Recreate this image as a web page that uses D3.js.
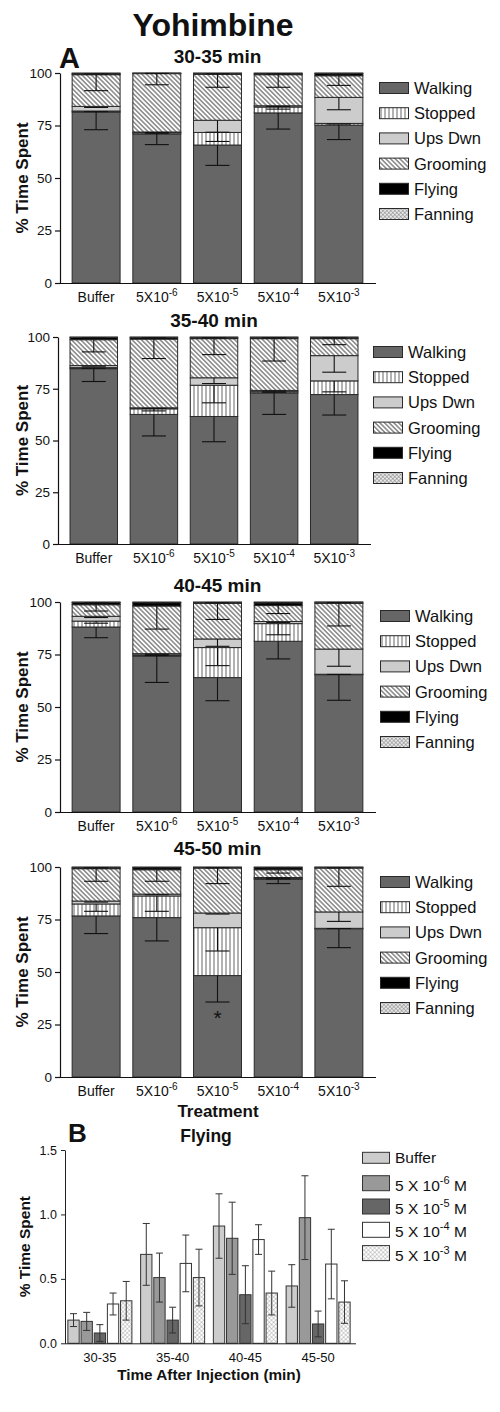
<!DOCTYPE html>
<html><head><meta charset="utf-8">
<script src="https://cdn.jsdelivr.net/npm/d3@7"></script>
<style>
body{margin:0;background:#fff}
svg{display:block}
text{font-family:"Liberation Sans",Arial,Helvetica,sans-serif;fill:#111}
</style>
</head><body>
<svg id="chart" width="500" height="1412"></svg>
<script>
// ---------------- DATA ----------------
const treatmentIds = ["buf","e6","e5","e4","e3"];
const treatmentBase = ["Buffer","5X10","5X10","5X10","5X10"];
const treatmentExp = ["","-6","-5","-4","-3"];
const periods = ["30-35 min","35-40 min","40-45 min","45-50 min"];
const behaviors = ["Walking","Stopped","Ups Dwn","Grooming","Flying","Fanning"];

// % time spent, rows = periods, columns = treatments
const walkingMean  = [[81.4,71.0,65.7,81.0,75.2],[84.7,62.6,61.6,73.0,72.2],[88.1,74.3,64.0,81.3,65.4],[76.7,75.9,48.3,94.1,70.6]];
const stoppedMean  = [[0.5,0.6,6.0,2.8,0.8],[0.5,2.7,15.1,0.6,6.6],[2.8,0.5,14.3,8.4,0.2],[5.7,10.3,22.8,0.4,0.2]];
const upsDwnMean   = [[2.2,0.3,5.8,0.6,12.4],[1.0,0.5,3.6,0.6,12.2],[2.3,0.6,4.1,1.0,12.0],[1.4,0.9,7.0,0.5,7.8]];
const groomingMean = [[15.1,27.8,21.9,14.8,10.3],[12.5,33.2,18.9,25.0,8.2],[5.5,22.7,17.0,7.6,21.8],[15.4,11.6,21.4,3.7,20.9]];
const flyingMeanA  = [[0.5,0.2,0.4,0.5,1.1],[1.1,0.8,0.6,0.6,0.6],[1.1,1.6,0.4,1.3,0.5],[0.6,1.0,0.3,1.0,0.3]];
const fanningMean  = [[0.3,0.1,0.2,0.3,0.2],[0.2,0.2,0.2,0.2,0.2],[0.2,0.3,0.2,0.4,0.1],[0.2,0.3,0.2,0.3,0.2]];

const walkingSem  = [[8.4,5.1,9.7,7.7,6.9],[6.2,10.4,12.2,10.4,9.9],[5.1,12.6,11.0,8.4,12.2],[8.4,11.1,12.6,2.0,9.0]];
const stoppedSem  = [[0.3,0.3,4.3,1.0,0.3],[0.3,1.0,8.5,0.3,5.3],[1.0,0.3,8.6,5.3,0.1],[3.5,7.3,11.1,0.2,0.1]];
const upsDwnSem   = [[0.5,0.2,5.7,0.3,5.9],[0.3,0.3,2.8,0.3,8.0],[0.6,0.3,3.5,0.5,8.2],[0.5,0.3,0.5,0.2,4.5]];
const groomingSem = [[7.6,5.3,6.2,6.0,4.6],[5.9,9.4,7.7,10.8,2.9],[3.0,11.0,7.7,3.8,10.8],[6.0,5.5,7.4,1.6,8.7]];
const flyingSemA  = [[0.2,0.1,0.2,0.2,0.5],[0.3,0.2,0.2,0.2,0.2],[0.3,0.4,0.2,0.3,0.2],[0.2,0.3,0.2,0.3,0.2]];

// Panel B: flying % time, per treatment across periods
const timeGroups = ["30-35","35-40","40-45","45-50"];
const flyBuffer = [0.18,0.69,0.91,0.445];
const fly5e6    = [0.17,0.51,0.815,0.975];
const fly5e5    = [0.08,0.18,0.377,0.15];
const fly5e4    = [0.305,0.62,0.805,0.615];
const fly5e3    = [0.33,0.51,0.39,0.32];
const flyBufferSem = [0.05,0.24,0.25,0.165];
const fly5e6Sem    = [0.07,0.19,0.28,0.325];
const fly5e5Sem    = [0.065,0.10,0.225,0.10];
const fly5e4Sem    = [0.085,0.22,0.115,0.27];
const fly5e3Sem    = [0.15,0.22,0.17,0.165];
const bLegendBase = ["Buffer","5 X 10","5 X 10","5 X 10","5 X 10"];
const bLegendExp  = ["","-6","-5","-4","-3"];

const yTicksA = [0,25,50,75,100];
const yTicksB = [0,0.5,1.0,1.5];

// ---------------- DRAWING ----------------
const svg = d3.select("#chart");
const defs = svg.append("defs");

function linePattern(id, rot, spacing, stroke, sw){
  const p = defs.append("pattern").attr("id",id).attr("patternUnits","userSpaceOnUse")
    .attr("width",spacing).attr("height",spacing);
  if(rot) p.attr("patternTransform",`rotate(${rot})`);
  p.append("rect").attr("width",spacing).attr("height",spacing).attr("fill","#fff");
  p.append("line").attr("x1",spacing/2).attr("x2",spacing/2).attr("y1",0).attr("y2",spacing)
    .attr("stroke",stroke).attr("stroke-width",sw);
}
linePattern("pStopped",0,4,"#555",0.9);
linePattern("pGroom",-45,3.3,"#333",0.9);
function crossPattern(id, spacing, stroke, sw, bg){
  const p = defs.append("pattern").attr("id",id).attr("patternUnits","userSpaceOnUse")
    .attr("width",spacing).attr("height",spacing).attr("patternTransform","rotate(45)");
  p.append("rect").attr("width",spacing).attr("height",spacing).attr("fill",bg);
  p.append("line").attr("x1",0).attr("x2",spacing).attr("y1",0).attr("y2",0).attr("stroke",stroke).attr("stroke-width",sw);
  p.append("line").attr("x1",0).attr("x2",0).attr("y1",0).attr("y2",spacing).attr("stroke",stroke).attr("stroke-width",sw);
}
crossPattern("pFan",2.8,"#555",0.7,"#e8e8e8");
crossPattern("pCross",3,"#888",0.7,"#fff");

const fills = {"Walking":"#666","Stopped":"url(#pStopped)","Ups Dwn":"#ccc","Grooming":"url(#pGroom)","Flying":"#000","Fanning":"url(#pFan)"};
const meanArrays = [walkingMean,stoppedMean,upsDwnMean,groomingMean,flyingMeanA,fanningMean];
const semArrays  = [walkingSem,stoppedSem,upsDwnSem,groomingSem,flyingSemA,null];

// Title
svg.append("text").attr("x",213).attr("y",36).attr("text-anchor","middle")
  .attr("font-size",32).attr("font-weight","bold").text("Yohimbine");
svg.append("text").attr("x",59).attr("y",68).attr("font-size",29).attr("font-weight","bold").text("A");

const layoutsA = [
  {x0:60,x1:375,yTop:73,yBot:283,titleY:63,legX:379,legY:88},
  {x0:58,x1:370,yTop:337,yBot:544,titleY:327,legX:373,legY:352},
  {x0:60,x1:375,yTop:602,yBot:812,titleY:592,legX:380,legY:616},
  {x0:60,x1:375,yTop:867,yBot:1077,titleY:855,legX:380,legY:882}
];

function addSupLabel(sel, base, exp, supSize, shift, suffix){
  sel.text(null);
  sel.append("tspan").text(base);
  if(exp){
    sel.append("tspan").attr("font-size",supSize).attr("dy",-shift).text(exp);
    if(suffix) sel.append("tspan").attr("dy",shift).text(suffix);
  }
}

layoutsA.forEach((L,i)=>{
  const g = svg.append("g");
  const x = d3.scaleBand().domain(treatmentIds).range([L.x0,L.x1]).paddingInner(0.21).paddingOuter(0.2);
  const y = d3.scaleLinear().domain([0,100]).range([L.yBot,L.yTop]);
  const rows = treatmentIds.map((t,j)=>{
    const o={t,j};
    behaviors.forEach((b,k)=>{o[b]=meanArrays[k][i][j];});
    return o;
  });
  const stacked = d3.stack().keys(behaviors)(rows);

  // bars
  stacked.forEach(layer=>{
    g.append("g").selectAll("rect").data(layer).join("rect")
      .attr("x",d=>x(d.data.t)).attr("width",x.bandwidth())
      .attr("y",d=>y(d[1])).attr("height",d=>Math.max(0,y(d[0])-y(d[1])))
      .attr("fill",fills[layer.key]).attr("stroke","#2a2a2a").attr("stroke-width",1);
  });
  // error bars (downward from each segment top)
  stacked.forEach((layer,k)=>{
    if(!semArrays[k]) return;
    layer.forEach((d,j)=>{
      const s = semArrays[k][i][j];
      const cx = x(d.data.t)+x.bandwidth()/2;
      const y1 = y(d[1]), y2 = y(d[1]-s);
      g.append("line").attr("x1",cx).attr("x2",cx).attr("y1",y1).attr("y2",y2).attr("stroke","#111").attr("stroke-width",1.1);
      g.append("line").attr("x1",cx-12).attr("x2",cx+12).attr("y1",y2).attr("y2",y2).attr("stroke","#111").attr("stroke-width",1.1);
    });
  });

  // axes
  const ya = g.append("g").attr("transform",`translate(${L.x0},0)`)
    .call(d3.axisLeft(y).tickValues(yTicksA).tickSize(5).tickSizeOuter(0).tickPadding(3));
  ya.selectAll("text").attr("font-size",13.5).style("font-family","'Liberation Sans',Arial,sans-serif").attr("fill","#111");
  ya.selectAll("path,line").attr("stroke","#111").attr("stroke-width",1.2);
  const xa = g.append("g").attr("transform",`translate(0,${L.yBot})`)
    .call(d3.axisBottom(x).tickSize(0).tickSizeOuter(0).tickPadding(0));
  xa.select("path").attr("d",`M${L.x0},0.5H${L.x1+1}`).attr("stroke","#111").attr("stroke-width",1.2);
  xa.selectAll("text").attr("font-size",14).attr("dy",null).attr("y",19)
    .style("font-family","'Liberation Sans',Arial,sans-serif").attr("fill","#111")
    .each(function(d){
      const j = treatmentIds.indexOf(d);
      addSupLabel(d3.select(this), treatmentBase[j], treatmentExp[j], 10, 6, null);
    });

  // y label
  g.append("text").attr("transform",`translate(22,${(L.yTop+L.yBot)/2}) rotate(-90)`)
    .attr("text-anchor","middle").attr("dy","0.35em").attr("font-size",17).attr("font-weight","bold").text("% Time Spent");
  // panel title
  g.append("text").attr("x",(L.x0+L.x1)/2).attr("y",L.titleY).attr("text-anchor","middle")
    .attr("font-size",19).attr("font-weight","bold").text(periods[i]);

  // legend
  const lg = g.append("g").attr("transform",`translate(${L.legX},${L.legY})`);
  behaviors.forEach((b,k)=>{
    const row = lg.append("g").attr("transform",`translate(0,${k*25.2})`);
    row.append("rect").attr("x",0.5).attr("y",-5.5).attr("width",29).attr("height",11)
      .attr("fill",fills[b]).attr("stroke","#2a2a2a").attr("stroke-width",1);
    row.append("text").attr("x",35).attr("y",6).attr("font-size",16.5).text(b);
  });

  if(i===3){
    // significance marker
    g.append("text").attr("x",x("e5")+x.bandwidth()/2).attr("y",1025).attr("text-anchor","middle")
      .attr("font-size",21).attr("fill","#000").text("*");
    g.append("text").attr("x",218).attr("y",1117).attr("text-anchor","middle")
      .attr("font-size",17).attr("font-weight","bold").text("Treatment");
  }
});

// ---------------- PANEL B ----------------
const gB = svg.append("g");
const flyMeans = [flyBuffer,fly5e6,fly5e5,fly5e4,fly5e3];
const flySems  = [flyBufferSem,fly5e6Sem,fly5e5Sem,fly5e4Sem,fly5e3Sem];
const bFills = ["#ccc","#999","#666","#fff","url(#pCross)"];

const x0 = d3.scaleBand().domain(timeGroups).range([63.5,354.5]).paddingInner(0.12).paddingOuter(0.06);
const x1 = d3.scaleBand().domain(treatmentIds).range([0,x0.bandwidth()]).paddingInner(0.14).paddingOuter(0);
const yB = d3.scaleLinear().domain([0,1.5]).range([1343.3,1150]);

const bData = [];
timeGroups.forEach((tg,gi)=>{
  treatmentIds.forEach((t,ti)=>{
    bData.push({tg,t,ti,v:flyMeans[ti][gi],s:flySems[ti][gi]});
  });
});
gB.append("g").selectAll("rect").data(bData).join("rect")
  .attr("x",d=>x0(d.tg)+x1(d.t)).attr("width",x1.bandwidth())
  .attr("y",d=>yB(d.v)).attr("height",d=>yB(0)-yB(d.v))
  .attr("fill",d=>bFills[d.ti]).attr("stroke","#333").attr("stroke-width",1);
const eg = gB.append("g").attr("stroke","#333").attr("stroke-width",1);
bData.forEach(d=>{
  const cx = x0(d.tg)+x1(d.t)+x1.bandwidth()/2;
  const yt = yB(d.v+d.s), yb = yB(d.v-d.s);
  eg.append("line").attr("x1",cx).attr("x2",cx).attr("y1",yt).attr("y2",yb);
  eg.append("line").attr("x1",cx-3.5).attr("x2",cx+3.5).attr("y1",yt).attr("y2",yt);
  eg.append("line").attr("x1",cx-3.5).attr("x2",cx+3.5).attr("y1",yb).attr("y2",yb);
});

const yaB = gB.append("g").attr("transform","translate(65,0)")
  .call(d3.axisLeft(yB).tickValues(yTicksB).tickFormat(d3.format(".1f")).tickSize(4).tickSizeOuter(0).tickPadding(4));
yaB.selectAll("text").attr("font-size",12.5).style("font-family","'Liberation Sans',Arial,sans-serif").attr("fill","#222");
yaB.selectAll("path,line").attr("stroke","#222");
const xaB = gB.append("g").attr("transform","translate(0,1343.3)")
  .call(d3.axisBottom(x0).tickSize(0).tickSizeOuter(0).tickPadding(0));
xaB.select("path").attr("d","M65,0.5H356").attr("stroke","#222");
xaB.selectAll("text").attr("font-size",13).attr("dy",null).attr("y",18.5)
  .style("font-family","'Liberation Sans',Arial,sans-serif").attr("fill","#111");

gB.append("text").attr("x",68).attr("y",1141.5).attr("font-size",26).attr("font-weight","bold").text("B");
gB.append("text").attr("x",206).attr("y",1141.5).attr("text-anchor","middle").attr("font-size",17.5).attr("font-weight","bold").text("Flying");
gB.append("text").attr("transform",`translate(25,${(1150+1343.3)/2}) rotate(-90)`)
  .attr("text-anchor","middle").attr("dy","0.35em").attr("font-size",15.5).attr("font-weight","bold").text("% Time Spent");
gB.append("text").attr("x",209).attr("y",1380).attr("text-anchor","middle").attr("font-size",15.3).attr("font-weight","bold").text("Time After Injection (min)");

// legend B
const lgB = gB.append("g").attr("transform","translate(362,0)");
treatmentIds.forEach((t,k)=>{
  const top = k===0 ? 1152.3 : 1175.7 + (k-1)*23.3;
  const h = k===0 ? 11 : 15;
  lgB.append("rect").attr("x",0.5).attr("y",top).attr("width",27).attr("height",h)
    .attr("fill",bFills[k]).attr("stroke","#333").attr("stroke-width",1);
  const tx = lgB.append("text").attr("x",33).attr("y",k===0 ? 1163 : top+h).attr("font-size",15.5);
  addSupLabel(tx, bLegendBase[k], bLegendExp[k], 11, 7, " M");
});
</script>
</body></html>
